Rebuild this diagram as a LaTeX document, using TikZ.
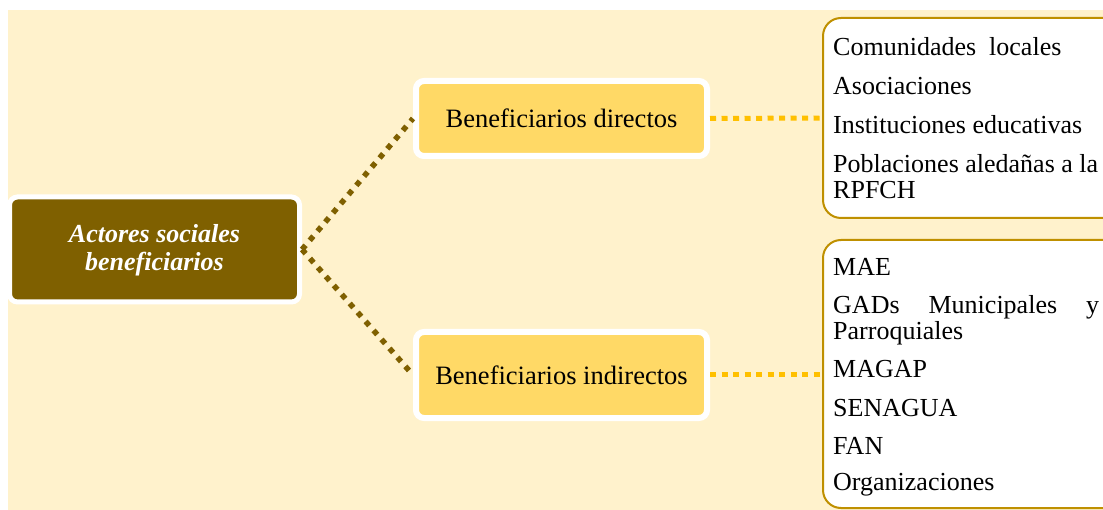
\documentclass[tikz,border=0pt]{standalone}
\usepackage{fontspec}
\setmainfont{Liberation Serif}
\definecolor{creambg}{HTML}{FFF2CC}
\definecolor{rootbrown}{HTML}{7F6000}
\definecolor{levelyellow}{HTML}{FFD966}
\definecolor{goldline}{HTML}{BF9000}
\definecolor{linkyellow}{HTML}{FFC000}
\begin{document}
\begin{tikzpicture}[x=1pt,y=-1pt,
  rootbox/.style={draw=white, line width=5pt, fill=rootbrown, rounded corners=8pt,
    minimum width=290pt, minimum height=105pt, inner sep=0pt, text=white,
    align=center, font=\fontsize{26}{28}\selectfont\bfseries\itshape},
  levelbox/.style={draw=white, line width=6pt, fill=levelyellow, rounded corners=8pt,
    minimum width=291pt, inner sep=0pt, align=center,
    font=\fontsize{26.5}{28}\selectfont},
  listbox/.style={draw=goldline, line width=2pt, fill=white, rounded corners=18pt},
  item/.style={anchor=west, inner sep=0pt, align=left,
    font=\fontsize{26}{26.5}\selectfont},
  brownlink/.style={draw=rootbrown, line width=5.5pt, dash pattern=on 5.5pt off 6.5pt},
  yellowlink/.style={draw=linkyellow, line width=5pt, dash pattern=on 6pt off 5.5pt}
]
\useasboundingbox (0,0) rectangle (1103,510);
\clip (0,0) rectangle (1103,510);
\fill[creambg] (8,10) rectangle (1103,510);

% list boxes
\draw[listbox] (823,18) rectangle (1140,218);
\draw[listbox] (823,240) rectangle (1140,508);
\coordinate (l1) at (823,118);
\coordinate (l2) at (823,375);

% main nodes
\node[rootbox, text depth=4pt] (root) at (154.5,249.5) {Actores sociales\\beneficiarios};
\node[levelbox, minimum height=75pt] (dir) at (561.5,118.5) {Beneficiarios directos};
\node[levelbox, minimum height=86pt] (ind) at (561.5,375) {Beneficiarios indirectos};

% connectors
\draw[brownlink] (root.east) -- (dir.west);
\draw[brownlink] (root.east) -- (ind.west);
\draw[yellowlink] (dir.east) -- (l1);
\draw[yellowlink] (ind.east) -- (l2);

% list items, box 1
\node[item] (a1) at (833,47) {Comunidades\hspace{0.25em} locales};
\node[item] (a2) at (833,86) {Asociaciones};
\node[item] (a3) at (833,125) {Instituciones educativas};
\node[item, anchor=north west] (a4) at (833,154) {Poblaciones aledañas a la\\RPFCH};

% list items, box 2
\node[item] (b1) at (833,267) {MAE};
\node[item, anchor=north west] (b2) at (833,295) {\makebox[266pt][s]{GADs\hfill Municipales\hfill y}\\Parroquiales};
\node[item] (b3) at (833,369) {MAGAP};
\node[item] (b4) at (833,408) {SENAGUA};
\node[item] (b5) at (833,446) {FAN};
\node[item] (b6) at (833,485) {Organizaciones};
\end{tikzpicture}
\end{document}
